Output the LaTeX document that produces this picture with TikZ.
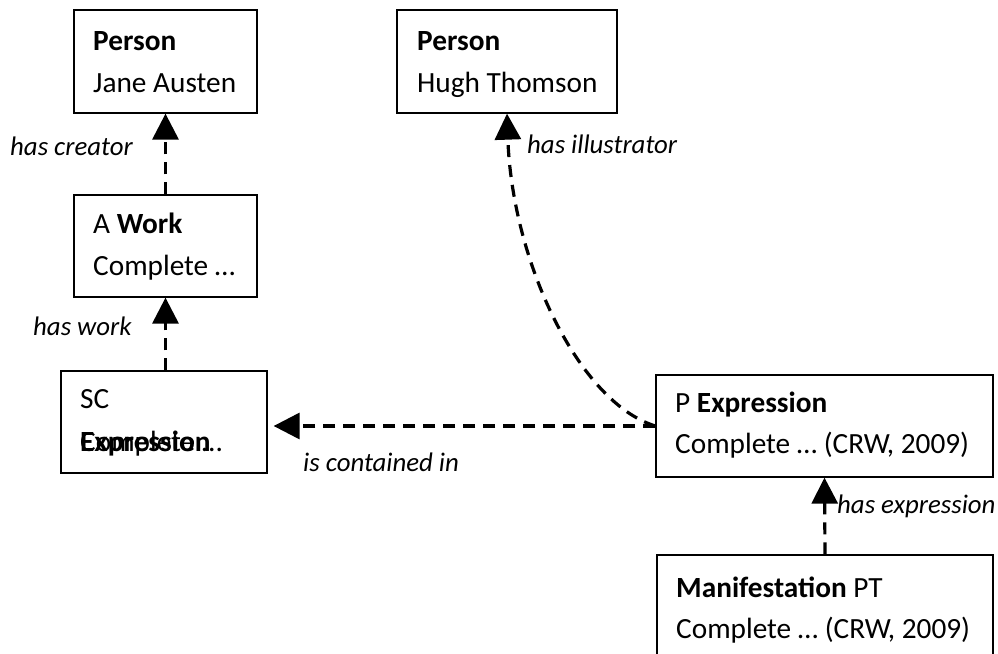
\documentclass[tikz,border=0pt]{standalone}
\usepackage{fontspec}
\setmainfont{Carlito}
\usetikzlibrary{arrows.meta}
\tikzset{
  box/.style={draw=black, line width=1.3pt, inner sep=0pt, fill=white},
  txt/.style={anchor=base west, inner sep=0pt, font=\fontsize{29.3}{35}\selectfont},
  lbl/.style={anchor=base west, inner sep=0pt, font=\fontsize{26.8}{32}\selectfont\itshape},
  rel/.style={line width=3.2pt, dash pattern=on 12pt off 8pt, -{Triangle[length=26pt,width=26pt]}}
}
\begin{document}
\begin{tikzpicture}[x=1pt,y=-1pt]
\clip (0,0) rectangle (998,653);
\fill[white] (0,0) rectangle (998,653);
% boxes
\node[box, minimum width=183pt, minimum height=103pt] (ja) at (165.5,61.5) {};
\node[box, minimum width=183pt, minimum height=102pt] (work) at (165.5,246) {};
\node[box, minimum width=220pt, minimum height=103pt] (ht) at (507,61.5) {};
\node[box, minimum width=206pt, minimum height=102pt] (sc) at (164,422) {};
\node[box, minimum width=337pt, minimum height=102pt] (pe) at (824.5,426) {};
\node[box, minimum width=336pt, minimum height=102pt] (man) at (825,606) {};
% texts
\node[txt] (ja1) at (93,50) {\textbf{Person}};
\node[txt] (ja2) at (93,92) {Jane Austen};
\node[txt] (wk1) at (93,233) {A \textbf{Work}};
\node[txt] (wk2) at (93,275) {Complete …};
\node[txt] (ht1) at (417,50) {\textbf{Person}};
\node[txt] (ht2) at (417,92) {Hugh Thomson};
\node[txt] (sc1) at (80,408) {SC};
\node[txt] (sc2) at (80,451) {\textbf{Expression}};
\node[txt] (sc3) at (80,451) {Complete …};
\node[txt] (pe1) at (675,412) {P \textbf{Expression}};
\node[txt] (pe2) at (675,453) {Complete … (CRW, 2009)};
\node[txt] (mn1) at (676,597) {\textbf{Manifestation} PT};
\node[txt] (mn2) at (676,638) {Complete … (CRW, 2009)};
% labels
\node[lbl] (l1) at (10,155) {has creator};
\node[lbl] (l2) at (33,335) {has work};
\node[lbl] (l3) at (527,153) {has illustrator};
\node[lbl] (l4) at (303,471) {is contained in};
\node[lbl] (l5) at (837,513) {has expression};
% connectors
\draw[rel] (work.north) -- (ja.south);
\draw[rel] (work.south |- sc.north) -- (work.south);
\draw[rel, shorten >=6pt] (pe.west) -- (pe.west -| sc.east);
\draw[rel] (pe.west) .. controls (578,402) and (512,260) .. (ht.south);
\draw[rel] (man.north) -- (pe.south);
\end{tikzpicture}
\end{document}
